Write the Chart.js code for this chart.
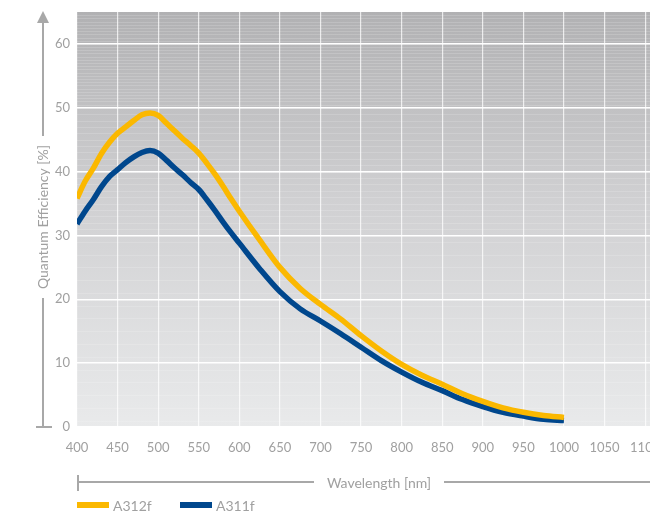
<!DOCTYPE html>
<html>
<head>
<meta charset="utf-8">
<script src="https://cdn.jsdelivr.net/npm/chart.js@4"></script>
<style>
  html, body { margin: 0; padding: 0; background: #fff; }
  #wrap { width: 650px; height: 515px; }
</style>
</head>
<body>
<div id="wrap"><canvas id="qe" width="650" height="515"></canvas></div>
<script>
// Wellenlängen in nm
const wavelengths = [400, 410, 420, 430, 440, 450, 460, 470, 480, 490, 500, 510, 520, 530, 540, 550, 560, 570, 580, 590, 600,
  625, 650, 675, 700, 725, 750, 775, 800, 825, 850, 875, 900, 925, 950, 975, 1000];
// Quanteneffizienz in %
const a312f = [35.8, 38.5, 40.5, 42.8, 44.6, 46.0, 47.0, 48.0, 48.9, 49.2, 48.8, 47.6, 46.4, 45.2, 44.1, 42.9, 41.3, 39.6, 37.7, 35.7, 33.8,
  29.3, 25.0, 21.7, 19.2, 16.9, 14.3, 11.9, 9.8, 8.1, 6.7, 5.2, 4.0, 3.0, 2.3, 1.8, 1.5];
const a311f = [31.8, 33.8, 35.6, 37.6, 39.2, 40.3, 41.4, 42.3, 43.0, 43.3, 42.9, 41.8, 40.6, 39.5, 38.3, 37.2, 35.6, 33.9, 32.1, 30.4, 28.8,
  24.8, 21.2, 18.5, 16.6, 14.6, 12.5, 10.4, 8.6, 7.0, 5.7, 4.3, 3.2, 2.3, 1.7, 1.2, 1.0];
const seriesNames = ['A312f', 'A311f'];
const seriesColors = ['#fbb800', '#00478d'];
const xTicks = [400, 450, 500, 550, 600, 650, 700, 750, 800, 850, 900, 950, 1000, 1050, 1100];
const yTicks = [0, 10, 20, 30, 40, 50, 60];

const TEXT = '#a0a0a0';
const FONT = 'Lato, "Open Sans", sans-serif';

// Hintergrund mit Verlauf und feinen Linien
const backdrop = {
  id: 'backdrop',
  beforeDraw(chart) {
    const { ctx, chartArea: a, scales } = chart;
    const y = scales.y;
    ctx.save();
    const g = ctx.createLinearGradient(0, a.top, 0, a.bottom);
    g.addColorStop(0, '#b1b1b3');
    g.addColorStop(0.45, '#d0d0d2');
    g.addColorStop(1, '#e9eaeb');
    ctx.fillStyle = g;
    ctx.fillRect(a.left, a.top, a.right - a.left, a.bottom - a.top);
    ctx.strokeStyle = 'rgba(255,255,255,0.16)';
    ctx.lineWidth = 1;
    for (let v = 1; v < 65; v += (v < 30 ? 2 : v < 50 ? 1 : 0.5)) {
      const py = Math.round(y.getPixelForValue(v)) + 0.5;
      ctx.beginPath();
      ctx.moveTo(a.left, py);
      ctx.lineTo(a.right, py);
      ctx.stroke();
    }
    ctx.restore();
  },
  afterDraw(chart) {
    const { ctx, chartArea: a } = chart;
    ctx.save();
    ctx.strokeStyle = '#a8a8a8';
    ctx.fillStyle = '#a8a8a8';
    ctx.lineWidth = 2;
    // Y-Achse mit Pfeil
    const ax = 43;
    ctx.beginPath();
    ctx.moveTo(ax, 23); ctx.lineTo(ax, 136);
    ctx.moveTo(ax, 298); ctx.lineTo(ax, a.bottom);
    ctx.moveTo(36, a.bottom); ctx.lineTo(52, a.bottom);
    ctx.stroke();
    ctx.beginPath();
    ctx.moveTo(ax, 11); ctx.lineTo(49, 23); ctx.lineTo(37, 23);
    ctx.closePath(); ctx.fill();
    ctx.fillStyle = TEXT;
    ctx.font = '14px ' + FONT;
    ctx.textAlign = 'center';
    ctx.textBaseline = 'middle';
    ctx.translate(ax, 217);
    ctx.rotate(-Math.PI / 2);
    ctx.fillText('Quantum Efficiency [%]', 0, 0);
    ctx.restore();

    // X-Achsentitel mit Linie
    ctx.save();
    ctx.strokeStyle = '#a8a8a8';
    ctx.lineWidth = 2;
    const ly = 482;
    ctx.beginPath();
    ctx.moveTo(a.left + 1, 475); ctx.lineTo(a.left + 1, 491);
    ctx.moveTo(a.left, ly); ctx.lineTo(314, ly);
    ctx.moveTo(444, ly); ctx.lineTo(650, ly);
    ctx.stroke();
    ctx.fillStyle = TEXT;
    ctx.font = '14px ' + FONT;
    ctx.textAlign = 'center';
    ctx.textBaseline = 'middle';
    ctx.fillText('Wavelength [nm]', 379, ly + 1);

    // Legende
    const lx = [77, 180];
    ctx.textAlign = 'left';
    seriesNames.forEach((name, i) => {
      ctx.fillStyle = seriesColors[i];
      ctx.fillRect(lx[i], 502, 32, 6);
      ctx.fillStyle = TEXT;
      ctx.fillText(name, lx[i] + 36, 506);
    });
    ctx.restore();
  }
};

const makeData = (vals) => wavelengths.map((w, i) => ({ x: w, y: vals[i] }));

new Chart(document.getElementById('qe'), {
  type: 'line',
  data: {
    datasets: [a312f, a311f].map((vals, i) => ({
      label: seriesNames[i],
      data: makeData(vals),
      borderColor: seriesColors[i],
      borderWidth: 5.5,
      pointRadius: 0,
      cubicInterpolationMode: 'monotone',
      fill: false
    }))
  },
  options: {
    responsive: false,
    animation: false,
    layout: { padding: { top: 12, left: 0, right: 0, bottom: 0 }, autoPadding: false },
    plugins: { legend: { display: false }, tooltip: { enabled: false } },
    scales: {
      x: {
        type: 'linear',
        min: 400,
        max: 1106,
        afterBuildTicks: (s) => { s.ticks = xTicks.map(v => ({ value: v })); },
        afterFit: (s) => { s.height = 88; s.paddingLeft = 0; s.paddingRight = 0; },
        ticks: {
          color: TEXT, font: { family: FONT, size: 13 }, padding: 13, maxRotation: 0, autoSkip: false,
          callback: (v) => String(v)
        },
        grid: { color: 'rgba(255,255,255,0.75)', lineWidth: 1.2, drawTicks: false },
        border: { display: false }
      },
      y: {
        min: 0,
        max: 65,
        afterBuildTicks: (s) => { s.ticks = yTicks.map(v => ({ value: v })); },
        afterFit: (s) => { s.width = 77; s.paddingTop = 0; s.paddingBottom = 0; },
        ticks: { color: TEXT, font: { family: FONT, size: 13 }, padding: 7, callback: (v) => String(v) },
        grid: { color: '#ffffff', lineWidth: 1.5, drawTicks: false },
        border: { display: false }
      }
    }
  },
  plugins: [backdrop]
});
</script>
</body>
</html>
